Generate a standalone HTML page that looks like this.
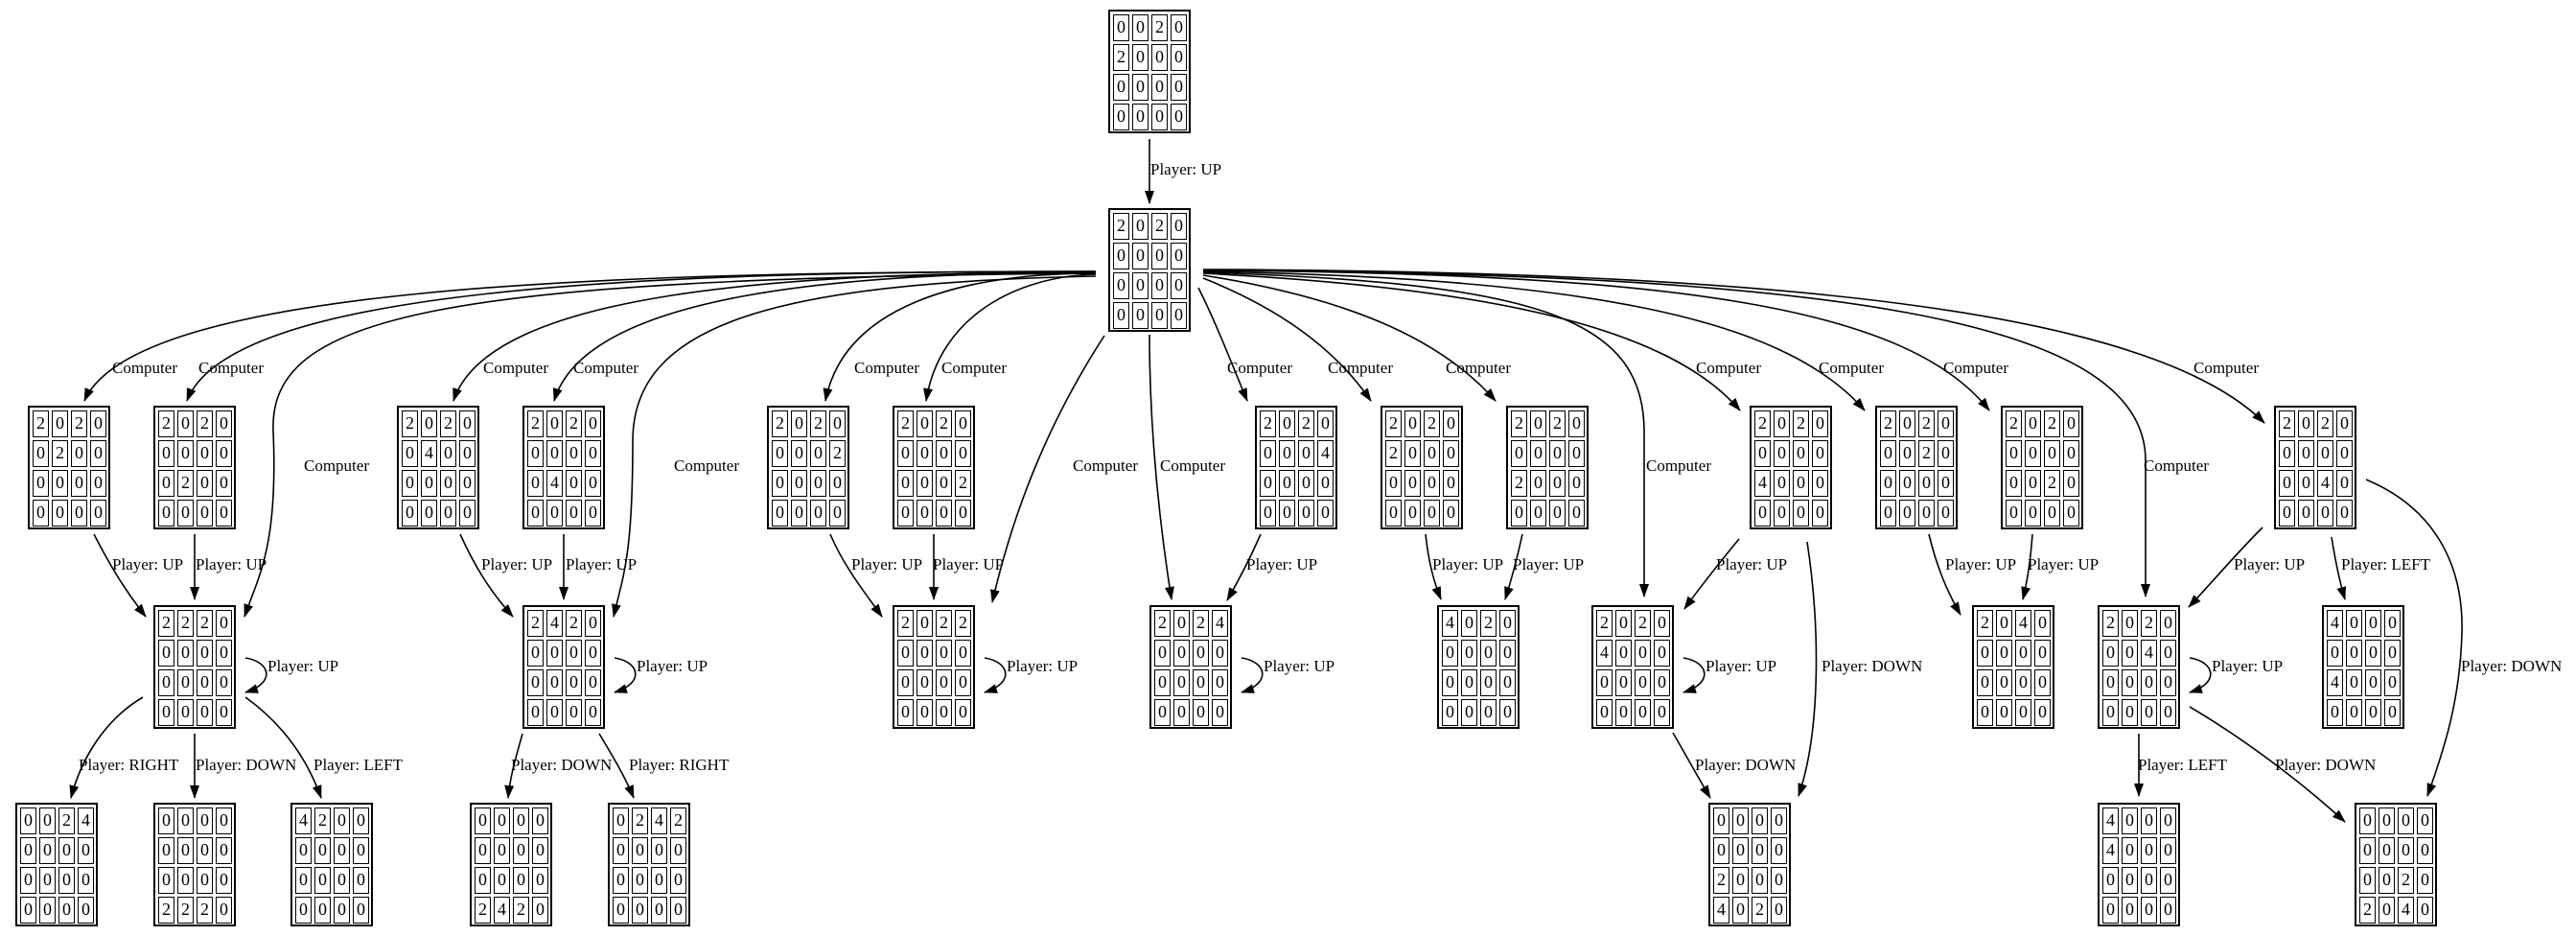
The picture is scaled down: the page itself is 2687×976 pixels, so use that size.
<!DOCTYPE html>
<html><head><meta charset="utf-8"><style>
body{margin:0;width:2687px;height:976px;overflow:hidden;background:#fff;position:relative;font-family:"Liberation Serif",serif}
svg{position:absolute;left:0;top:0}
.n{position:absolute;width:86px;height:129px;box-sizing:border-box;border:2px solid #000;padding:3px 3px;display:grid;grid-template-columns:repeat(4,17px);grid-template-rows:repeat(4,28px);column-gap:3px;row-gap:3px;background:#fff}
.n i{font-style:normal;box-sizing:border-box;border:1.6px solid #000;font-size:18px;line-height:25px;text-align:center;color:#000}
text{font-family:"Liberation Serif",serif;font-size:17px;fill:#000}
</style></head><body>
<svg width="2687" height="976" viewBox="0 0 2687 976">
<defs><marker id="a" markerWidth="14" markerHeight="10" refX="13" refY="5" orient="auto" markerUnits="userSpaceOnUse"><path d="M0,0 L14,5 L0,10 z" fill="#000"/></marker></defs>
<g fill="none" stroke="#000" stroke-width="1.6" marker-end="url(#a)">
<path d="M1199,145 L1199,212"/>
<path d="M1143,283 C615,283 140,300 88,418"/>
<path d="M1143,283 C670,283 240,300 195,418"/>
<path d="M1143,284 C810,284 510,305 473,418"/>
<path d="M1143,284 C860,284 610,310 578,418"/>
<path d="M1143,285 C1000,285 880,320 861,418"/>
<path d="M1143,286 C1060,288 980,330 966,418"/>
<path d="M1143,285 C450,290 280,330 285,450 S270,600 255,643"/>
<path d="M1143,288 C800,295 660,340 660,460 S650,600 640,643"/>
<path d="M1152,350 C1100,430 1060,520 1035,628"/>
<path d="M1199,349 C1199,450 1210,550 1222,625"/>
<path d="M1250,300 C1270,340 1285,380 1301,418"/>
<path d="M1255,290 C1330,320 1390,360 1430,418"/>
<path d="M1255,287 C1400,310 1500,350 1560,418"/>
<path d="M1255,285 C1550,300 1740,340 1815,428"/>
<path d="M1255,283 C1650,290 1860,330 1945,428"/>
<path d="M1255,282 C1750,285 1990,320 2075,428"/>
<path d="M1255,281 C1900,283 2250,330 2362,441"/>
<path d="M1255,284 C1600,295 1715,330 1715,450 L1715,622"/>
<path d="M1255,282 C1900,285 2238,330 2238,480 L2238,622"/>
<!-- row2 -> row3 -->
<path d="M98,557 C115,590 130,615 152,643"/>
<path d="M203,557 L203,625"/>
<path d="M480,557 C495,590 510,615 535,643"/>
<path d="M588,557 L588,625"/>
<path d="M866,557 C880,590 900,615 920,643"/>
<path d="M974,557 L974,625"/>
<path d="M1315,557 C1305,580 1295,600 1280,626"/>
<path d="M1487,557 C1490,585 1495,605 1503,625"/>
<path d="M1588,557 C1583,580 1578,600 1570,625"/>
<path d="M1814,562 C1795,585 1775,610 1757,635"/>
<path d="M1885,565 C1898,650 1900,760 1876,830"/>
<path d="M2012,557 C2020,590 2030,615 2045,641"/>
<path d="M2120,557 C2118,585 2115,605 2110,625"/>
<path d="M2360,550 C2330,580 2305,610 2283,633"/>
<path d="M2432,560 C2436,585 2440,605 2446,625"/>
<path d="M2468,500 C2540,530 2570,590 2568,660 C2566,730 2550,780 2532,830"/>
<!-- row3 -> row4 -->
<path d="M149,727 C110,750 85,790 74,832"/>
<path d="M203,765 L203,832"/>
<path d="M256,727 C295,755 320,790 335,832"/>
<path d="M545,765 C538,790 532,810 530,832"/>
<path d="M625,765 C640,790 652,810 661,832"/>
<path d="M1745,764 C1760,790 1772,812 1784,832"/>
<path d="M2231,765 L2231,830"/>
<path d="M2284,737 C2340,770 2400,815 2446,857"/>
<!-- self loops -->
<path d="M256,686 C282,690 288,712 256,722"/>
<path d="M641,686 C667,690 673,712 641,722"/>
<path d="M1027,686 C1053,690 1059,712 1027,722"/>
<path d="M1295,686 C1321,690 1327,712 1295,722"/>
<path d="M1756,686 C1782,690 1788,712 1756,722"/>
<path d="M2284,686 C2310,690 2316,712 2284,722"/>
</g>
<g>
<text x="1200" y="182">Player: UP</text>
<text x="117" y="389">Computer</text><text x="207" y="389">Computer</text>
<text x="504" y="389">Computer</text><text x="598" y="389">Computer</text>
<text x="891" y="389">Computer</text><text x="982" y="389">Computer</text>
<text x="1280" y="389">Computer</text><text x="1385" y="389">Computer</text>
<text x="1508" y="389">Computer</text><text x="1769" y="389">Computer</text>
<text x="1897" y="389">Computer</text><text x="2027" y="389">Computer</text>
<text x="2288" y="389">Computer</text>
<text x="317" y="491">Computer</text><text x="703" y="491">Computer</text>
<text x="1119" y="491">Computer</text><text x="1210" y="491">Computer</text>
<text x="1717" y="491">Computer</text><text x="2236" y="491">Computer</text>
<text x="117" y="594">Player: UP</text><text x="204" y="594">Player: UP</text>
<text x="502" y="594">Player: UP</text><text x="590" y="594">Player: UP</text>
<text x="888" y="594">Player: UP</text><text x="973" y="594">Player: UP</text>
<text x="1300" y="594">Player: UP</text>
<text x="1494" y="594">Player: UP</text><text x="1578" y="594">Player: UP</text>
<text x="1790" y="594">Player: UP</text>
<text x="2029" y="594">Player: UP</text><text x="2115" y="594">Player: UP</text>
<text x="2330" y="594">Player: UP</text><text x="2442" y="594">Player: LEFT</text>
<text x="1900" y="700">Player: DOWN</text><text x="2567" y="700">Player: DOWN</text>
<text x="279" y="700">Player: UP</text><text x="664" y="700">Player: UP</text>
<text x="1050" y="700">Player: UP</text><text x="1318" y="700">Player: UP</text>
<text x="1779" y="700">Player: UP</text><text x="2307" y="700">Player: UP</text>
<text x="82" y="803">Player: RIGHT</text><text x="204" y="803">Player: DOWN</text>
<text x="327" y="803">Player: LEFT</text><text x="533" y="803">Player: DOWN</text>
<text x="656" y="803">Player: RIGHT</text><text x="1768" y="803">Player: DOWN</text>
<text x="2230" y="803">Player: LEFT</text><text x="2373" y="803">Player: DOWN</text>
</g>
</svg>

<div class="n" style="left:1156px;top:10px"><i>0</i><i>0</i><i>2</i><i>0</i><i>2</i><i>0</i><i>0</i><i>0</i><i>0</i><i>0</i><i>0</i><i>0</i><i>0</i><i>0</i><i>0</i><i>0</i></div>
<div class="n" style="left:1156px;top:217px"><i>2</i><i>0</i><i>2</i><i>0</i><i>0</i><i>0</i><i>0</i><i>0</i><i>0</i><i>0</i><i>0</i><i>0</i><i>0</i><i>0</i><i>0</i><i>0</i></div>

<div class="n" style="left:29px;top:423px"><i>2</i><i>0</i><i>2</i><i>0</i><i>0</i><i>2</i><i>0</i><i>0</i><i>0</i><i>0</i><i>0</i><i>0</i><i>0</i><i>0</i><i>0</i><i>0</i></div>
<div class="n" style="left:160px;top:423px"><i>2</i><i>0</i><i>2</i><i>0</i><i>0</i><i>0</i><i>0</i><i>0</i><i>0</i><i>2</i><i>0</i><i>0</i><i>0</i><i>0</i><i>0</i><i>0</i></div>
<div class="n" style="left:414px;top:423px"><i>2</i><i>0</i><i>2</i><i>0</i><i>0</i><i>4</i><i>0</i><i>0</i><i>0</i><i>0</i><i>0</i><i>0</i><i>0</i><i>0</i><i>0</i><i>0</i></div>
<div class="n" style="left:545px;top:423px"><i>2</i><i>0</i><i>2</i><i>0</i><i>0</i><i>0</i><i>0</i><i>0</i><i>0</i><i>4</i><i>0</i><i>0</i><i>0</i><i>0</i><i>0</i><i>0</i></div>
<div class="n" style="left:800px;top:423px"><i>2</i><i>0</i><i>2</i><i>0</i><i>0</i><i>0</i><i>0</i><i>2</i><i>0</i><i>0</i><i>0</i><i>0</i><i>0</i><i>0</i><i>0</i><i>0</i></div>
<div class="n" style="left:931px;top:423px"><i>2</i><i>0</i><i>2</i><i>0</i><i>0</i><i>0</i><i>0</i><i>0</i><i>0</i><i>0</i><i>0</i><i>2</i><i>0</i><i>0</i><i>0</i><i>0</i></div>
<div class="n" style="left:1309px;top:423px"><i>2</i><i>0</i><i>2</i><i>0</i><i>0</i><i>0</i><i>0</i><i>4</i><i>0</i><i>0</i><i>0</i><i>0</i><i>0</i><i>0</i><i>0</i><i>0</i></div>
<div class="n" style="left:1440px;top:423px"><i>2</i><i>0</i><i>2</i><i>0</i><i>2</i><i>0</i><i>0</i><i>0</i><i>0</i><i>0</i><i>0</i><i>0</i><i>0</i><i>0</i><i>0</i><i>0</i></div>
<div class="n" style="left:1571px;top:423px"><i>2</i><i>0</i><i>2</i><i>0</i><i>0</i><i>0</i><i>0</i><i>0</i><i>2</i><i>0</i><i>0</i><i>0</i><i>0</i><i>0</i><i>0</i><i>0</i></div>
<div class="n" style="left:1825px;top:423px"><i>2</i><i>0</i><i>2</i><i>0</i><i>0</i><i>0</i><i>0</i><i>0</i><i>4</i><i>0</i><i>0</i><i>0</i><i>0</i><i>0</i><i>0</i><i>0</i></div>
<div class="n" style="left:1956px;top:423px"><i>2</i><i>0</i><i>2</i><i>0</i><i>0</i><i>0</i><i>2</i><i>0</i><i>0</i><i>0</i><i>0</i><i>0</i><i>0</i><i>0</i><i>0</i><i>0</i></div>
<div class="n" style="left:2087px;top:423px"><i>2</i><i>0</i><i>2</i><i>0</i><i>0</i><i>0</i><i>0</i><i>0</i><i>0</i><i>0</i><i>2</i><i>0</i><i>0</i><i>0</i><i>0</i><i>0</i></div>
<div class="n" style="left:2372px;top:423px"><i>2</i><i>0</i><i>2</i><i>0</i><i>0</i><i>0</i><i>0</i><i>0</i><i>0</i><i>0</i><i>4</i><i>0</i><i>0</i><i>0</i><i>0</i><i>0</i></div>

<div class="n" style="left:160px;top:631px"><i>2</i><i>2</i><i>2</i><i>0</i><i>0</i><i>0</i><i>0</i><i>0</i><i>0</i><i>0</i><i>0</i><i>0</i><i>0</i><i>0</i><i>0</i><i>0</i></div>
<div class="n" style="left:545px;top:631px"><i>2</i><i>4</i><i>2</i><i>0</i><i>0</i><i>0</i><i>0</i><i>0</i><i>0</i><i>0</i><i>0</i><i>0</i><i>0</i><i>0</i><i>0</i><i>0</i></div>
<div class="n" style="left:931px;top:631px"><i>2</i><i>0</i><i>2</i><i>2</i><i>0</i><i>0</i><i>0</i><i>0</i><i>0</i><i>0</i><i>0</i><i>0</i><i>0</i><i>0</i><i>0</i><i>0</i></div>
<div class="n" style="left:1199px;top:631px"><i>2</i><i>0</i><i>2</i><i>4</i><i>0</i><i>0</i><i>0</i><i>0</i><i>0</i><i>0</i><i>0</i><i>0</i><i>0</i><i>0</i><i>0</i><i>0</i></div>
<div class="n" style="left:1499px;top:631px"><i>4</i><i>0</i><i>2</i><i>0</i><i>0</i><i>0</i><i>0</i><i>0</i><i>0</i><i>0</i><i>0</i><i>0</i><i>0</i><i>0</i><i>0</i><i>0</i></div>
<div class="n" style="left:1660px;top:631px"><i>2</i><i>0</i><i>2</i><i>0</i><i>4</i><i>0</i><i>0</i><i>0</i><i>0</i><i>0</i><i>0</i><i>0</i><i>0</i><i>0</i><i>0</i><i>0</i></div>
<div class="n" style="left:2057px;top:631px"><i>2</i><i>0</i><i>4</i><i>0</i><i>0</i><i>0</i><i>0</i><i>0</i><i>0</i><i>0</i><i>0</i><i>0</i><i>0</i><i>0</i><i>0</i><i>0</i></div>
<div class="n" style="left:2188px;top:631px"><i>2</i><i>0</i><i>2</i><i>0</i><i>0</i><i>0</i><i>4</i><i>0</i><i>0</i><i>0</i><i>0</i><i>0</i><i>0</i><i>0</i><i>0</i><i>0</i></div>
<div class="n" style="left:2422px;top:631px"><i>4</i><i>0</i><i>0</i><i>0</i><i>0</i><i>0</i><i>0</i><i>0</i><i>4</i><i>0</i><i>0</i><i>0</i><i>0</i><i>0</i><i>0</i><i>0</i></div>

<div class="n" style="left:16px;top:837px"><i>0</i><i>0</i><i>2</i><i>4</i><i>0</i><i>0</i><i>0</i><i>0</i><i>0</i><i>0</i><i>0</i><i>0</i><i>0</i><i>0</i><i>0</i><i>0</i></div>
<div class="n" style="left:160px;top:837px"><i>0</i><i>0</i><i>0</i><i>0</i><i>0</i><i>0</i><i>0</i><i>0</i><i>0</i><i>0</i><i>0</i><i>0</i><i>2</i><i>2</i><i>2</i><i>0</i></div>
<div class="n" style="left:303px;top:837px"><i>4</i><i>2</i><i>0</i><i>0</i><i>0</i><i>0</i><i>0</i><i>0</i><i>0</i><i>0</i><i>0</i><i>0</i><i>0</i><i>0</i><i>0</i><i>0</i></div>
<div class="n" style="left:490px;top:837px"><i>0</i><i>0</i><i>0</i><i>0</i><i>0</i><i>0</i><i>0</i><i>0</i><i>0</i><i>0</i><i>0</i><i>0</i><i>2</i><i>4</i><i>2</i><i>0</i></div>
<div class="n" style="left:634px;top:837px"><i>0</i><i>2</i><i>4</i><i>2</i><i>0</i><i>0</i><i>0</i><i>0</i><i>0</i><i>0</i><i>0</i><i>0</i><i>0</i><i>0</i><i>0</i><i>0</i></div>
<div class="n" style="left:1782px;top:837px"><i>0</i><i>0</i><i>0</i><i>0</i><i>0</i><i>0</i><i>0</i><i>0</i><i>2</i><i>0</i><i>0</i><i>0</i><i>4</i><i>0</i><i>2</i><i>0</i></div>
<div class="n" style="left:2188px;top:837px"><i>4</i><i>0</i><i>0</i><i>0</i><i>4</i><i>0</i><i>0</i><i>0</i><i>0</i><i>0</i><i>0</i><i>0</i><i>0</i><i>0</i><i>0</i><i>0</i></div>
<div class="n" style="left:2456px;top:837px"><i>0</i><i>0</i><i>0</i><i>0</i><i>0</i><i>0</i><i>0</i><i>0</i><i>0</i><i>0</i><i>2</i><i>0</i><i>2</i><i>0</i><i>4</i><i>0</i></div>
</body></html>
